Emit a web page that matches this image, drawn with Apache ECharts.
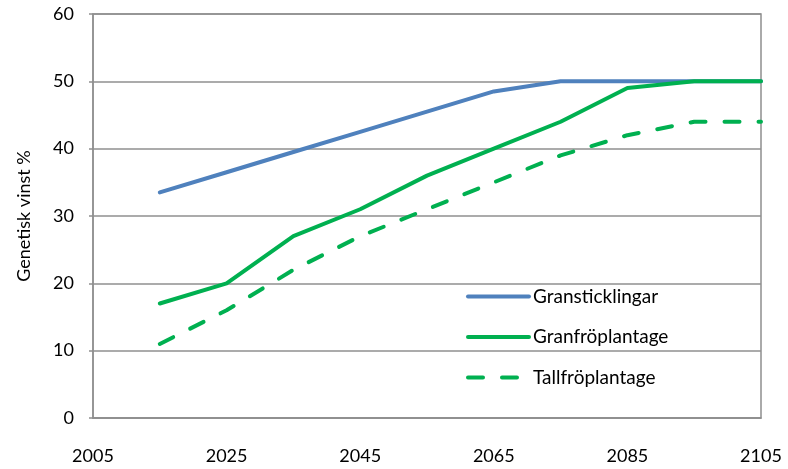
<!DOCTYPE html>
<html>
<head>
<meta charset="utf-8">
<script src="https://cdn.jsdelivr.net/npm/echarts@6/dist/echarts.min.js"></script>
<style>
  html, body { margin: 0; padding: 0; background: #fff; }
  #chart { width: 788px; height: 469px; }
</style>
</head>
<body>
<div id="chart"></div>
<script>
// Genetic gain (%) per decade for three breeding material types
const years = [2015, 2025, 2035, 2045, 2055, 2065, 2075, 2085, 2095, 2105];
const gransticklingar = [33.5, 36.5, 39.5, 42.5, 45.5, 48.5, 50, 50, 50, 50];
const granfroplantage = [17, 20, 27, 31, 36, 40, 44, 49, 50, 50];
const tallfroplantage = [11, 16, 22, 27, 31, 35, 39, 42, 44, 44];

const FONT = 'Lato, "Open Sans", sans-serif';
const GRID_COLOR = '#8f8f8f';

const pairs = arr => years.map((y, i) => [y, arr[i]]);

const chart = echarts.init(document.getElementById('chart'), null, { renderer: 'canvas' });

chart.setOption({
  animation: false,
  backgroundColor: '#fff',
  grid: { left: 93, top: 14, right: 27, bottom: 51, show: true, borderColor: GRID_COLOR, borderWidth: 1.5 },
  xAxis: {
    type: 'value',
    min: 2005,
    max: 2105,
    interval: 20,
    axisLine: { show: true, lineStyle: { color: GRID_COLOR, width: 1.5 } },
    axisTick: { show: false },
    splitLine: { show: false },
    axisLabel: { color: '#000', fontFamily: FONT, fontSize: 18, margin: 29, formatter: v => String(v) }
  },
  yAxis: {
    type: 'value',
    min: 0,
    max: 60,
    interval: 10,
    axisLine: { show: true, lineStyle: { color: GRID_COLOR, width: 1.5 } },
    axisTick: { show: true, length: 4, lineStyle: { color: GRID_COLOR, width: 1.5 } },
    splitLine: { show: true, lineStyle: { color: GRID_COLOR, width: 1.5 } },
    axisLabel: { color: '#000', fontFamily: FONT, fontSize: 18, margin: 19 }
  },
  legend: {
    orient: 'vertical',
    left: 466,
    top: 287,
    padding: 0,
    itemWidth: 61,
    itemHeight: 21,
    itemGap: 21.5,
    itemStyle: { opacity: 0 },
    lineStyle: { width: 4 },
    textStyle: { color: '#000', fontFamily: FONT, fontSize: 19, padding: [0, 0, 0, -1] },
    data: ['Gransticklingar', 'Granfröplantage', 'Tallfröplantage']
  },
  graphic: [{
    type: 'text',
    x: 24,
    y: 216,
    rotation: Math.PI / 2,
    style: {
      text: 'Genetisk vinst %',
      fill: '#000',
      font: '18px ' + FONT,
      align: 'center',
      verticalAlign: 'middle'
    }
  }],
  series: [
    {
      name: 'Gransticklingar',
      type: 'line',
      symbol: 'none',
      data: pairs(gransticklingar),
      lineStyle: { color: '#4F81BD', width: 4, cap: 'round', join: 'round' },
      itemStyle: { color: '#4F81BD' }
    },
    {
      name: 'Granfröplantage',
      type: 'line',
      symbol: 'none',
      data: pairs(granfroplantage),
      lineStyle: { color: '#00B050', width: 4, cap: 'round', join: 'round' },
      itemStyle: { color: '#00B050' }
    },
    {
      name: 'Tallfröplantage',
      type: 'line',
      symbol: 'none',
      data: pairs(tallfroplantage),
      lineStyle: { color: '#00B050', width: 4, type: [15, 19], cap: 'round', join: 'round' },
      itemStyle: { color: '#00B050' }
    }
  ]
});
</script>
</body>
</html>
